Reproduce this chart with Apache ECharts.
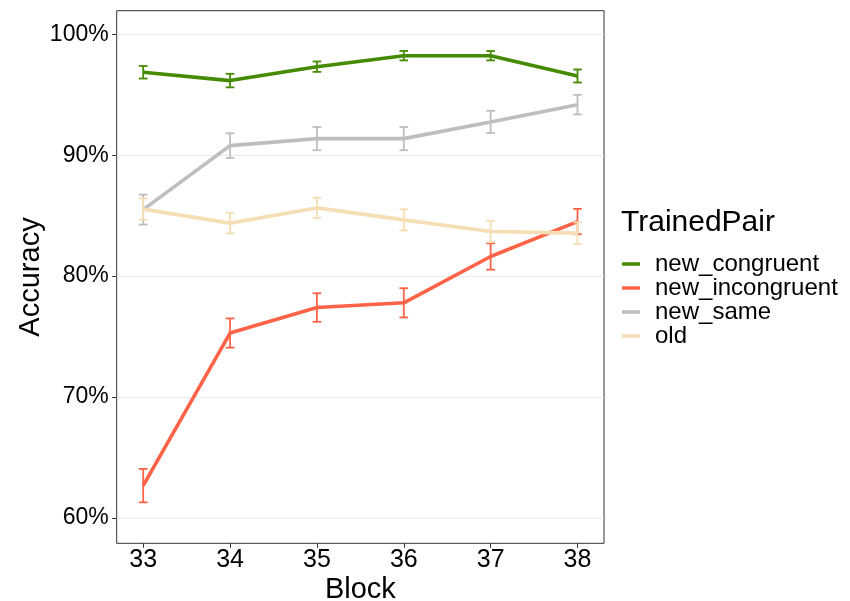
<!DOCTYPE html>
<html>
<head>
<meta charset="utf-8">
<script src="https://cdn.jsdelivr.net/npm/echarts@6/dist/echarts.min.js"></script>
<style>html,body{margin:0;padding:0;background:#fff;}#chart{width:850px;height:601px;}</style>
</head>
<body>
<div id="chart"></div>
<script>
const blocks = [33, 34, 35, 36, 37, 38];
const yTicks = [60, 70, 80, 90, 100];
const seriesNames = ['new_congruent', 'new_incongruent', 'new_same', 'old'];
const newCongruent = [96.86, 96.17, 97.32, 98.23, 98.23, 96.55];
const newCongruentSE = [0.52, 0.56, 0.43, 0.39, 0.39, 0.54];
const newIncongruent = [62.67, 75.29, 77.40, 77.79, 81.62, 84.51];
const newIncongruentSE = [1.38, 1.21, 1.18, 1.21, 1.09, 1.05];
const newSame = [85.50, 90.79, 91.37, 91.37, 92.75, 94.18];
const newSameSE = [1.24, 1.02, 0.96, 0.96, 0.92, 0.81];
const oldPair = [85.54, 84.38, 85.64, 84.65, 83.69, 83.55];
const oldPairSE = [0.88, 0.85, 0.84, 0.88, 0.88, 0.90];

const colors = ['#458B00', '#FF6347', '#BEBEBE', '#F5DEB3'];
const values = [newCongruent, newIncongruent, newSame, oldPair];
const errors = [newCongruentSE, newIncongruentSE, newSameSE, oldPairSE];
const FONT = '"Liberation Sans", Arial, sans-serif';

const chart = echarts.init(document.getElementById('chart'), null, {renderer: 'canvas'});

const series = [];
values.forEach((vals, i) => {
  series.push({
    name: seriesNames[i],
    type: 'line',
    data: blocks.map((b, j) => [b, vals[j]]),
    symbol: 'none',
    lineStyle: {color: colors[i], width: 3.6},
    itemStyle: {color: colors[i]},
    z: 3 + i
  });
});
values.forEach((vals, i) => {
  const col = colors[i];
  series.push({
    type: 'custom',
    data: blocks.map((b, j) => [b, vals[j] - errors[i][j], vals[j] + errors[i][j]]),
    encode: {x: 0, y: [1, 2]},
    z: 3 + i,
    renderItem: function (params, api) {
      const x = api.value(0), lo = api.value(1), hi = api.value(2);
      const pLo = api.coord([x, lo]);
      const pHi = api.coord([x, hi]);
      const l = api.coord([x - 0.05, lo])[0];
      const r = api.coord([x + 0.05, lo])[0];
      const st = {stroke: col, lineWidth: 1.8};
      return {
        type: 'group',
        children: [
          {type: 'line', shape: {x1: pLo[0], y1: pLo[1], x2: pHi[0], y2: pHi[1]}, style: st},
          {type: 'line', shape: {x1: l, y1: pLo[1], x2: r, y2: pLo[1]}, style: st},
          {type: 'line', shape: {x1: l, y1: pHi[1], x2: r, y2: pHi[1]}, style: st}
        ]
      };
    }
  });
});

chart.setOption({
  animation: false,
  backgroundColor: '#fff',
  title: {
    text: 'TrainedPair', left: 621, top: 208, padding: 0,
    textStyle: {fontFamily: FONT, fontSize: 30, fontWeight: 'normal', color: '#000'}
  },
  legend: {
    orient: 'vertical', left: 622, top: 252, padding: 0,
    itemWidth: 18, itemHeight: 3.5, itemGap: 0, icon: 'rect',
    textStyle: {fontFamily: FONT, fontSize: 24, color: '#000', lineHeight: 23.4, padding: [0, 0, 0, 10]},
    data: seriesNames
  },
  grid: {
    left: 116.7, right: 246, top: 10.7, bottom: 57.7,
    outerBoundsMode: 'none', containLabel: false,
    show: true, borderColor: '#333333', borderWidth: 1, backgroundColor: '#fff'
  },
  xAxis: {
    type: 'value', min: 32.695, max: 38.305,
    name: 'Block', nameLocation: 'middle', nameGap: 32, nameMoveOverlap: false,
    nameTextStyle: {fontFamily: FONT, fontSize: 29, color: '#000'},
    axisLine: {show: false},
    axisTick: {show: true, customValues: blocks, length: 4.5, lineStyle: {color: '#333'}},
    axisLabel: {customValues: blocks, margin: 4, fontFamily: FONT, fontSize: 25, color: '#000'},
    splitLine: {show: false}
  },
  yAxis: {
    type: 'value', min: 57.9, max: 101.95,
    name: 'Accuracy', nameLocation: 'middle', nameGap: 71, nameMoveOverlap: false,
    nameTextStyle: {fontFamily: FONT, fontSize: 29, color: '#000'},
    axisLine: {show: false},
    axisTick: {show: true, customValues: yTicks, length: 4.5, lineStyle: {color: '#333'}},
    axisLabel: {customValues: yTicks, margin: 8, fontFamily: FONT, fontSize: 23, color: '#000',
      formatter: v => v + '%'},
    splitLine: {show: true, lineStyle: {color: '#EBEBEB', width: 1}}
  },
  series: series
});
</script>
</body>
</html>
